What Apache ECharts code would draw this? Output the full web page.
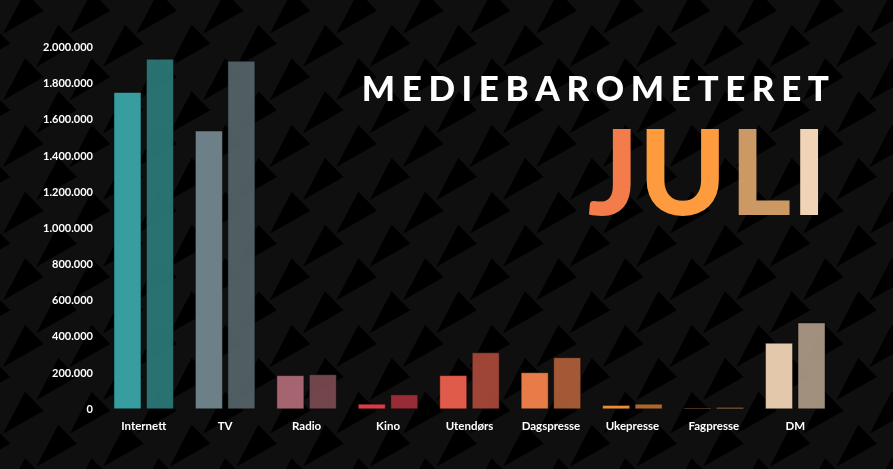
<!DOCTYPE html>
<html>
<head>
<meta charset="utf-8">
<script src="https://cdn.jsdelivr.net/npm/echarts@6/dist/echarts.min.js"></script>
<style>
  html, body { margin: 0; padding: 0; background: #0f0f0f; }
  #chart { width: 893px; height: 469px; }
</style>
</head>
<body>
<div id="chart"></div>
<script>
// ---- data ----
var categories = ['Internett', 'TV', 'Radio', 'Kino', 'Utendørs', 'Dagspresse', 'Ukepresse', 'Fagpresse', 'DM'];
var seriesA = [1754000, 1541000, 189000, 31000, 189000, 205000, 24000, 9000, 368000];
var seriesB = [1938000, 1927000, 194000, 83000, 315000, 288000, 31000, 13000, 480000];
var yTicks = [0, 200000, 400000, 600000, 800000, 1000000, 1200000, 1400000, 1600000, 1800000, 2000000];
var titleText = 'MEDIEBAROMETERET';
var monthText = 'JULI';

// ---- styles ----
var colorsA = ['#3aa7a9', '#74888f', '#ae6b77', '#e8404e', '#ef6150', '#f6844c', '#f8983a', '#f4a264', '#f1d5b6'];
var colorsB = ['#2c7b7b', '#56656b', '#7c4a53', '#a42e3c', '#aa4a3c', '#b15f3a', '#b96f30', '#b8835a', '#ad9b87'];

// background pattern of dark triangles
(function () {
  var S = 200, P = S / 3;
  var c = document.createElement('canvas');
  c.width = S; c.height = S;
  var g = c.getContext('2d');
  g.fillStyle = '#0f0f0f';
  g.fillRect(0, 0, S, S);
  g.fillStyle = '#000000';
  var apexes = [];
  for (var i = 0; i < 3; i++) for (var j = 0; j < 3; j++) {
    apexes.push([58.3 + i * P, 24.7 + j * P]);
    apexes.push([25 + i * P, 58.3 + j * P]);
  }
  apexes.forEach(function (a) {
    for (var dx = -1; dx <= 1; dx++) for (var dy = -1; dy <= 1; dy++) {
      var x = a[0] + dx * S, y = a[1] + dy * S;
      g.beginPath();
      g.moveTo(x, y);
      g.lineTo(x + 18.5, y + 19);
      g.lineTo(x - 22, y + 42);
      g.closePath();
      g.fill();
    }
  });
  document.body.style.backgroundImage = 'url(' + c.toDataURL() + ')';
  document.body.style.backgroundRepeat = 'repeat';
})();

function fmt(v) {
  return String(v).replace(/\B(?=(\d{3})+(?!\d))/g, '.');
}

var chart = echarts.init(document.getElementById('chart'));
var titleRich = titleText.split('').map(function (ch) { return '{s|' + ch + '}'; }).join('');
var monthKeys = ['j', 'u', 'l', 'i'];
var monthRich = monthText.split('').map(function (ch, k) { return '{' + monthKeys[k] + '|' + ch + '}'; }).join('');
var monthFont = { fontFamily: 'Lato', fontWeight: 900, fontSize: 118 };

var option = {
  backgroundColor: 'transparent',
  animation: false,
  grid: { left: 103, right: 57, top: 47.5, bottom: 59.7, containLabel: false },
  xAxis: {
    type: 'category',
    data: categories,
    axisLine: { show: false },
    axisTick: { show: false },
    axisLabel: { color: '#ffffff', fontFamily: 'Lato', fontWeight: 'bold', fontSize: 11.5, margin: 11 }
  },
  yAxis: {
    type: 'value',
    min: yTicks[0],
    max: yTicks[yTicks.length - 1],
    interval: yTicks[1] - yTicks[0],
    splitLine: { show: false },
    axisLine: { show: false },
    axisTick: { show: false },
    axisLabel: { color: '#ffffff', fontFamily: 'Lato', fontWeight: 'bold', fontSize: 11, margin: 10, formatter: fmt }
  },
  series: [
    {
      type: 'bar', data: seriesA, barWidth: 28, barGap: '16%',
      itemStyle: { color: function (p) { return colorsA[p.dataIndex]; }, borderColor: 'rgba(0,0,0,0.45)', borderWidth: 1, opacity: 0.94 }
    },
    {
      type: 'bar', data: seriesB, barWidth: 28, barGap: '16%',
      itemStyle: { color: function (p) { return colorsB[p.dataIndex]; }, borderColor: 'rgba(0,0,0,0.45)', borderWidth: 1, opacity: 0.92 }
    }
  ],
  graphic: [
    {
      type: 'text', right: 64, top: 72, z: 10, silent: true,
      style: {
        text: titleRich,
        fill: '#ffffff',
        rich: { s: { fontFamily: 'Lato', fontWeight: 900, fontSize: 35, fill: '#ffffff', padding: [0, 3.3, 0, 3.3] } }
      }
    },
    {
      type: 'text', right: 66, top: 118, z: 10, silent: true,
      style: {
        text: monthRich,
        fill: '#f47c4a',
        rich: {
          j: Object.assign({ fill: '#f47c4a' }, monthFont),
          u: Object.assign({ fill: '#fd9b3e', textShadowColor: '#f27d46', textShadowOffsetX: -7 }, monthFont),
          l: Object.assign({ fill: '#cc9964', padding: [0, 0, 0, 3] }, monthFont),
          i: Object.assign({ fill: '#f1d4b6' }, monthFont)
        }
      }
    }
  ]
};
chart.setOption(option);
</script>
</body>
</html>
